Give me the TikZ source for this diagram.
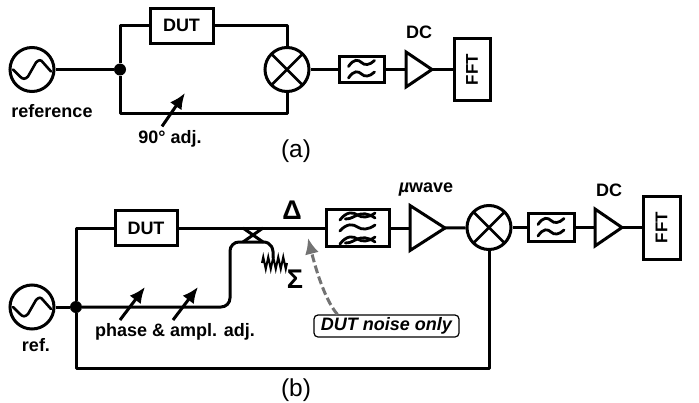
\documentclass[tikz,border=0pt]{standalone}
\usepackage{fontspec}
\setmainfont{Liberation Sans}
\usetikzlibrary{arrows.meta}
\usetikzlibrary{shapes.geometric}
\usetikzlibrary{decorations.pathmorphing}
\tikzset{
    wire/.style = {line width=3pt,line join=round},
    arrowp/.style = {line width=3pt,-{Latex[length=16pt,width=14pt]}},
    arrown/.style = {line width=3pt,dash pattern=on 8pt off 3.5pt,draw=black!55,-{Latex[length=16pt,width=14pt]}},
    box/.style = {rectangle,line width=3pt,draw=black,fill=white,font=\fontsize{18}{20}\bfseries\selectfont,inner sep=0pt},
    source/.style = {circle,line width=3pt,draw=black,fill=white,minimum size=44pt,inner sep=0pt},
    mixer/.style = {circle,line width=3pt,draw=black,fill=white,minimum size=44pt,inner sep=0pt},
    amp/.style = {isosceles triangle,isosceles triangle stretches,line width=3pt,draw=black,fill=white,inner sep=0pt,outer sep=0pt},
    dotj/.style = {circle,fill=black,minimum size=12pt,inner sep=0pt},
    lbl/.style = {font=\fontsize{18}{20}\bfseries\selectfont,inner sep=0pt},
    bigl/.style = {font=\fontsize{27}{28}\bfseries\selectfont,inner sep=0pt},
    capt/.style = {font=\fontsize{24.5}{26}\selectfont,inner sep=0pt},
    pics/sine/.style = {code={
      \draw[line width=2.6pt,line cap=round] (-19,0) -- (-12,7) .. controls (-9,10) and (-7,10) .. (-4,7) -- (4,-7) .. controls (7,-10) and (9,-10) .. (11,-7) -- (19,2);
    }},
    pics/wave/.style = {code={
      \draw[line width=2.8pt,line cap=round] (-13,3) .. controls (-8,-5) and (-3,-4) .. (0,-1) .. controls (3,2) and (8,2) .. (13,-3);
    }},
    pics/wavex/.style = {code={
      \draw[line width=2.8pt,line cap=round] (-13,4) .. controls (-8,-5) and (-3,-4) .. (0,-1) .. controls (3,2) and (8,2) .. (13,-3);
      \draw[line width=2.8pt,line cap=round] (-9,3) .. controls (-4,3) and (-3,0) .. (0,-1) .. controls (3,-3) and (8,-3) .. (13,2);
    }},
    pics/xcross/.style = {code={
      \draw[line width=2.8pt] (-15.5,-15.5) -- (15.5,15.5) (-15.5,15.5) -- (15.5,-15.5);
    }}
}
\begin{document}
\begin{tikzpicture}[x=1pt,y=-1pt]
  \useasboundingbox (0,0) rectangle (699,402);

  % top circuit
  \node[source] (srca) at (32,69.5) {};
  \pic at (32,69.5) {sine};
  \node[dotj] (ja) at (120,69.5) {};
  \node[box,minimum width=63pt,minimum height=35pt] (duta) at (181.5,25.5) {DUT};
  \node[mixer] (mixa) at (287,69.5) {};
  \pic at (287,69.5) {xcross};
  \node[box,minimum width=45pt,minimum height=26pt] (lpa) at (361.5,69.5) {};
  \pic at (361.5,63.5) {wave};
  \pic at (361.5,75) {wave};
  \node[amp,minimum height=26pt,minimum width=35pt,anchor=lower side] (ampa) at (406,69.5) {};
  \node[box,minimum width=36pt,minimum height=62pt] (ffta) at (472,69.5) {\rotatebox{90}{\fontsize{17}{18}\bfseries\selectfont FFT}};
  \node[lbl] (refa) at (52,111) {reference};
  \node[lbl] (adja) at (170,139) {90° adj.};
  \node[lbl] (dca) at (419,32) {DC};
  \node[capt] (capa) at (296,151) {(a)};
  \coordinate (arra) at (185,93);

  \draw[wire] (srca) -- (ja);
  \draw[wire] (ja) |- (duta);
  \draw[wire] (duta) -| (mixa);
  \draw[wire] (ja) |- (200,113) -| (mixa);
  \draw[wire] (mixa) -- (lpa);
  \draw[wire] (lpa) -- (ampa);
  \draw[wire] (ampa.apex) -- (ffta);
  \draw[arrowp] (adja.north) ++(-8,-4) -- (arra);

  % bottom circuit
  \node[source] (srcb) at (32,307) {};
  \pic at (32,307) {sine};
  \node[dotj] (jb) at (76,307) {};
  \node[box,minimum width=62pt,minimum height=35pt] (dutb) at (146,228) {DUT};
  \node[box,minimum width=63pt,minimum height=37pt] (bpf) at (357.5,228) {};
  \pic[xscale=1.35] at (357.5,216) {wavex};
  \pic[xscale=1.35] at (357.5,228) {wave};
  \pic[xscale=1.35] at (357.5,240) {wavex};
  \node[amp,minimum height=35pt,minimum width=45pt,anchor=lower side] (ampb) at (410,228) {};
  \node[mixer] (mixb) at (489,227.5) {};
  \pic at (489,227.5) {xcross};
  \node[box,minimum width=46pt,minimum height=28pt] (lpb) at (551,227.5) {};
  \pic at (551,221.5) {wave};
  \pic at (551,233) {wave};
  \node[amp,minimum height=27pt,minimum width=37pt,anchor=lower side] (ampc) at (595,227.5) {};
  \node[box,minimum width=37pt,minimum height=63pt] (fftb) at (661.5,227.5) {\rotatebox{90}{\fontsize{17}{18}\bfseries\selectfont FFT}};
  \node[lbl] (refb) at (36,345) {ref.};
  \node[lbl] (adjb) at (175,332) {phase \& ampl. adj.};
  \node[bigl] (delta) at (292,210) {Δ};
  \node[bigl] (sigma) at (295,279) {Σ};
  \node[lbl] (uw) at (426,190) {\textit{µ}wave};
  \node[lbl] (dcb) at (609,190) {DC};
  \node[rectangle,rounded corners=4pt,draw=black,line width=1.2pt,minimum width=145pt,minimum height=22pt,inner sep=0pt,font=\fontsize{18}{20}\bfseries\itshape\selectfont] (noise) at (386.5,326) {DUT noise only};
  \node[capt] (capb) at (296,390) {(b)};
  \coordinate (xa) at (243,228);
  \coordinate (xb) at (263,228);
  \coordinate (xc) at (243,242);
  \coordinate (xd) at (263,242);
  \coordinate (rl) at (262,263);
  \coordinate (rr) at (287,263);
  \coordinate (arrn) at (308,238);
  \coordinate (arrb) at (145,287);
  \coordinate (arrc) at (198,287);

  \draw[wire] (srcb) -- (jb);
  \draw[wire] (jb) |- (dutb);
  \draw[wire] (dutb) -- (bpf);
  \draw[wire] (bpf) -- (ampb);
  \draw[wire] (ampb.apex) -- (mixb);
  \draw[wire] (mixb) -- (lpb);
  \draw[wire] (lpb) -- (ampc);
  \draw[wire] (ampc.apex) -- (fftb);
  \draw[wire] (jb) |- (300,368) -| (mixb);
  \draw[wire,rounded corners=9pt] (jb) -- (230,307) -- (230,242) -- (xd);
  \draw[wire] (xd) .. controls (271,242) and (274,248) .. (273,258);
  \draw[wire] (xa) -- (xd);
  \draw[wire] (xc) -- (xb);
  \draw[line width=2pt,decorate,decoration={zigzag,segment length=5pt,amplitude=6pt}] (rl) -- (rr);
  \draw[arrowp] (120,320) -- (arrb);
  \draw[arrowp] (173,320) -- (arrc);
  \draw[arrown] (noise.north west) ++(24,0) .. controls (325,300) and (316,270) .. (arrn);
\end{tikzpicture}
\end{document}
